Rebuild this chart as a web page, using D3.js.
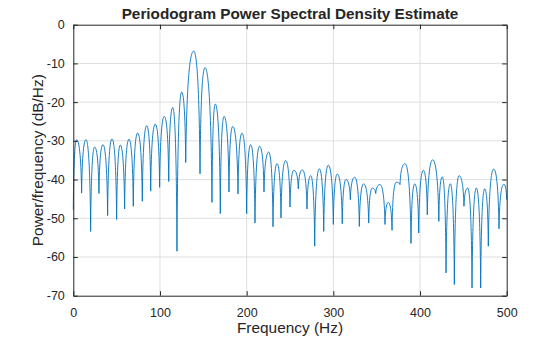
<!DOCTYPE html>
<html>
<head>
<meta charset="utf-8">
<script src="https://cdn.jsdelivr.net/npm/d3@7"></script>
<style>
  body { margin: 0; background: #fff; }
  svg { font-family: "Liberation Sans", Arial, sans-serif; }
  .grid line { stroke: #dfdfdf; stroke-width: 1; }
  .axis path, .axis line { stroke: #262626; }
  .axis text { fill: #262626; font-size: 12.5px; }
</style>
</head>
<body>
<div id="chart"></div>
<script>
// lobe peaks and nulls (Hz, dB/Hz), in order
var freqs = [0, 3.8, 9.6, 14.6, 20, 24.6, 29.6, 34.2, 39.6, 44.6, 50, 54.2, 59.2, 64.2, 69.2, 74.2,
  79.6, 84.7, 89.3, 94.6, 99.6, 105, 110.1, 114.7, 119.6, 125, 129.7, 138.9, 146.2, 151.9, 160,
  163.8, 169.6, 173.9, 179.6, 183.9, 190, 194.6, 200, 204.6, 209.6, 215, 220, 225.4, 230.4, 235, 239.6, 245,
  250, 254.6, 259.6, 264.2, 269.6, 273.9, 278.5, 283.8, 288.9, 294.2, 300, 304.6, 310.3, 314.6, 319.6, 324.6, 330, 335,
  340.8, 345, 348.9, 353.8, 359.6, 363.4, 367.7, 372.6, 376.9, 382.7, 389.6, 393.9, 398.5, 403.8, 408.4, 414.6, 421.7,
  425.7, 430, 435, 439.6, 445, 450.7, 455, 460, 465, 470, 474.6, 478.8, 485, 491.1, 496.8, 500];
var power = [-47.8, -29.7, -43.5, -29.7, -53.4, -31.6, -43.6, -31.0, -49.3, -29.5, -50.3, -31.1, -47.6, -29.6, -46.9, -28.0,
  -45.6, -26.1, -43.0, -25.7, -42.0, -23.7, -40.5, -21.4, -58.5, -17.4, -35.6, -6.8, -38.5, -11.1, -45.9,
  -20.5, -48.8, -23.7, -43.2, -26.3, -43.7, -28.0, -48.8, -31.0, -51.2, -31.4, -43.2, -32.9, -52.2, -35.9, -49.9, -35.1,
  -47.1, -37.6, -42.4, -37.5, -47.6, -39.0, -57.2, -37.2, -53.4, -36.3, -51.6, -38.6, -51.4, -40.0, -45.2, -39.4, -52.1, -41.1,
  -51.2, -42.2, -43.6, -41.3, -51.6, -45.9, -53.1, -40.7, -41.3, -35.9, -56.5, -41.1, -53.8, -37.6, -49.1, -34.9, -50.8,
  -39.3, -64.1, -41.1, -67.1, -39.0, -46.9, -42.2, -68.0, -42.2, -68.0, -42.4, -57.2, -37.3, -52.7, -41.2, -45.2];

var xTicks = [0, 100, 200, 300, 400, 500];
var yTicks = [0, -10, -20, -30, -40, -50, -60, -70];

var margin = { top: 24.7, right: 53.3, bottom: 41.3, left: 73.3 },
  width = 560 - margin.left - margin.right,
  height = 337 - margin.top - margin.bottom;

var svg = d3.select("#chart").append("svg")
  .attr("width", 560)
  .attr("height", 337);

var g = svg.append("g")
  .attr("transform", "translate(" + margin.left + "," + margin.top + ")");

var x = d3.scaleLinear().domain([0, 500]).range([0, width]);
var y = d3.scaleLinear().domain([-70, 0]).range([height, 0]);

// plain hyphen minus like the original
var plain = function(d) { return String(d); };

// grid
g.append("g").attr("class", "grid")
  .selectAll("line").data(xTicks.slice(1, -1)).enter().append("line")
  .attr("x1", function(d) { return x(d); }).attr("x2", function(d) { return x(d); })
  .attr("y1", 0).attr("y2", height);
g.append("g").attr("class", "grid")
  .selectAll("line").data(yTicks.slice(1, -1)).enter().append("line")
  .attr("y1", function(d) { return y(d); }).attr("y2", function(d) { return y(d); })
  .attr("x1", 0).attr("x2", width);

// curve: steep near the nulls, flat at the lobe tops
var pts = freqs.map(function(f, i) { return [x(f), y(power[i])]; });
var p = d3.path();
p.moveTo(pts[0][0], pts[0][1]);
for (var i = 1; i < pts.length; i++) {
  var a = pts[i - 1], b = pts[i];
  var dx = b[0] - a[0];
  if (b[1] < a[1]) {
    // going up to a peak
    p.bezierCurveTo(a[0] + dx * 0.12, a[1] + (b[1] - a[1]) * 0.75, a[0] + dx * 0.55, b[1], b[0], b[1]);
  } else {
    // going down to a null
    p.bezierCurveTo(a[0] + dx * 0.45, a[1], b[0] - dx * 0.12, b[1] - (b[1] - a[1]) * 0.75, b[0], b[1]);
  }
}
g.append("path")
  .attr("d", p.toString())
  .attr("fill", "none")
  .attr("stroke", "#0072bd")
  .attr("stroke-width", 0.9)
  .attr("stroke-linejoin", "round");

// axes with inward ticks on all four sides
g.append("g").attr("class", "axis")
  .attr("transform", "translate(0," + height + ")")
  .call(d3.axisBottom(x).tickValues(xTicks).tickFormat(plain).tickSizeInner(-4.5).tickSizeOuter(0).tickPadding(12))
  .selectAll("text").attr("dy", "0.71em");
g.append("g").attr("class", "axis")
  .call(d3.axisTop(x).tickValues(xTicks).tickSizeInner(-4.5).tickSizeOuter(0).tickFormat(""));
g.append("g").attr("class", "axis")
  .call(d3.axisLeft(y).tickValues(yTicks).tickFormat(plain).tickSizeInner(-4.5).tickSizeOuter(0).tickPadding(8.5));
g.append("g").attr("class", "axis")
  .attr("transform", "translate(" + width + ",0)")
  .call(d3.axisRight(y).tickValues(yTicks).tickSizeInner(-4.5).tickSizeOuter(0).tickFormat(""));

g.selectAll(".axis .domain").attr("stroke-width", 1);

// labels
svg.append("text")
  .attr("x", margin.left + width / 2).attr("y", 18.5)
  .attr("text-anchor", "middle")
  .style("font-size", "15.3px").style("font-weight", "bold").style("fill", "#262626")
  .text("Periodogram Power Spectral Density Estimate");

svg.append("text")
  .attr("x", margin.left + width / 2).attr("y", 333)
  .attr("text-anchor", "middle")
  .style("font-size", "15.4px").style("fill", "#262626")
  .text("Frequency (Hz)");

svg.append("text")
  .attr("transform", "translate(42.5," + (margin.top + height / 2) + ") rotate(-90)")
  .attr("text-anchor", "middle")
  .style("font-size", "15.4px").style("fill", "#262626")
  .text("Power/frequency (dB/Hz)");
</script>
</body>
</html>
